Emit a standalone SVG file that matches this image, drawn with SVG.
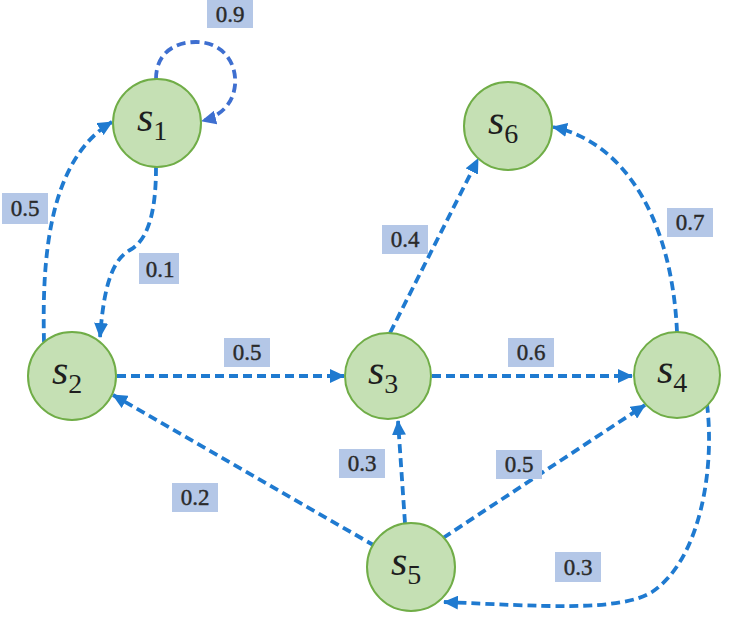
<svg xmlns="http://www.w3.org/2000/svg" width="742" height="628" viewBox="0 0 742 628">
<style>
.node circle{fill:#c5e0b4;stroke:#70ad47;stroke-width:2}
.nl{font-family:"Liberation Serif","DejaVu Serif",serif;font-style:italic;font-size:42px;fill:#1e1e1e}
.sub{font-style:normal;font-size:28px}
.e{fill:none;stroke:#1f7ad0;stroke-width:3.8;stroke-dasharray:9 5;marker-end:url(#ah)}
.lb rect{fill:#b4c7e7}
.lb text{font-family:"Liberation Serif","DejaVu Serif",serif;font-size:23px;fill:#2a2a2a;text-anchor:middle;stroke:#2a2a2a;stroke-width:0.4}
</style>
<defs>
<marker id="ah" markerUnits="userSpaceOnUse" markerWidth="16" markerHeight="14" refX="14" refY="7" orient="auto">
<path d="M0,0 L15,7 L0,14 Z" fill="#1f7ad0"/>
</marker>
<marker id="ah2" markerUnits="userSpaceOnUse" markerWidth="16" markerHeight="14" refX="14" refY="7" orient="auto">
<path d="M0,0 L15,7 L0,14 Z" fill="#3e6fd0"/>
</marker>
</defs>
<g id="connectors">
<path class="e" style="stroke:#3e6fd0;marker-end:url(#ah2)" d="M156,79 C156,52 176,42 196,42 C222,42 237,62 235,85 C233,106 218,117 202,121"/>
<path class="e" d="M156,167 C156,200 152,238 130,250 C108,262 103,300 100,337"/>
<path class="e" d="M44,342 C42,260 48,160 112,122"/>
<path class="e" d="M117,376 L344,376"/>
<path class="e" d="M432,376 L632,376"/>
<path class="e" d="M390,333 L478,159"/>
<path class="e" d="M677,332 C672,220 625,142 553,127"/>
<path class="e" d="M405,523 L398,421"/>
<path class="e" d="M443,538 L645,405"/>
<path class="e" d="M375,546 L113,395"/>
<path class="e" d="M707,404 C715,470 700,560 652,592 C620,612 540,606 444,602"/>
</g>
<g id="labels">
<g class="lb"><rect x="207" y="0" width="46" height="28"/><text x="230" y="22">0.9</text></g>
<g class="lb"><rect x="2" y="193" width="46" height="31"/><text x="25" y="216">0.5</text></g>
<g class="lb"><rect x="139" y="253" width="40" height="31"/><text x="160" y="277">0.1</text></g>
<g class="lb"><rect x="224" y="338" width="46" height="29"/><text x="247" y="360">0.5</text></g>
<g class="lb"><rect x="382" y="225" width="46" height="29"/><text x="405" y="247">0.4</text></g>
<g class="lb"><rect x="508" y="338" width="46" height="29"/><text x="531" y="360">0.6</text></g>
<g class="lb"><rect x="667" y="208" width="46" height="29"/><text x="690" y="230">0.7</text></g>
<g class="lb"><rect x="339" y="449" width="46" height="29"/><text x="362" y="471">0.3</text></g>
<g class="lb"><rect x="496" y="450" width="46" height="29"/><text x="519" y="472">0.5</text></g>
<g class="lb"><rect x="172" y="483" width="46" height="29"/><text x="195" y="505">0.2</text></g>
<g class="lb"><rect x="555" y="552" width="46" height="30"/><text x="578" y="575">0.3</text></g>
</g>
<g id="s1" class="node"><circle cx="157" cy="123" r="44"/><text class="nl" x="137" y="131">s<tspan class="sub" dy="9">1</tspan></text></g>
<g id="s2" class="node"><circle cx="72" cy="376" r="44"/><text class="nl" x="52" y="384">s<tspan class="sub" dy="9">2</tspan></text></g>
<g id="s3" class="node"><circle cx="388" cy="376" r="43"/><text class="nl" x="368" y="384">s<tspan class="sub" dy="9">3</tspan></text></g>
<g id="s4" class="node"><circle cx="677" cy="375" r="43"/><text class="nl" x="657" y="383">s<tspan class="sub" dy="9">4</tspan></text></g>
<g id="s5" class="node"><circle cx="411" cy="567" r="44"/><text class="nl" x="391" y="575">s<tspan class="sub" dy="9">5</tspan></text></g>
<g id="s6" class="node"><circle cx="508" cy="126" r="44"/><text class="nl" x="488" y="134">s<tspan class="sub" dy="9">6</tspan></text></g>
</svg>
